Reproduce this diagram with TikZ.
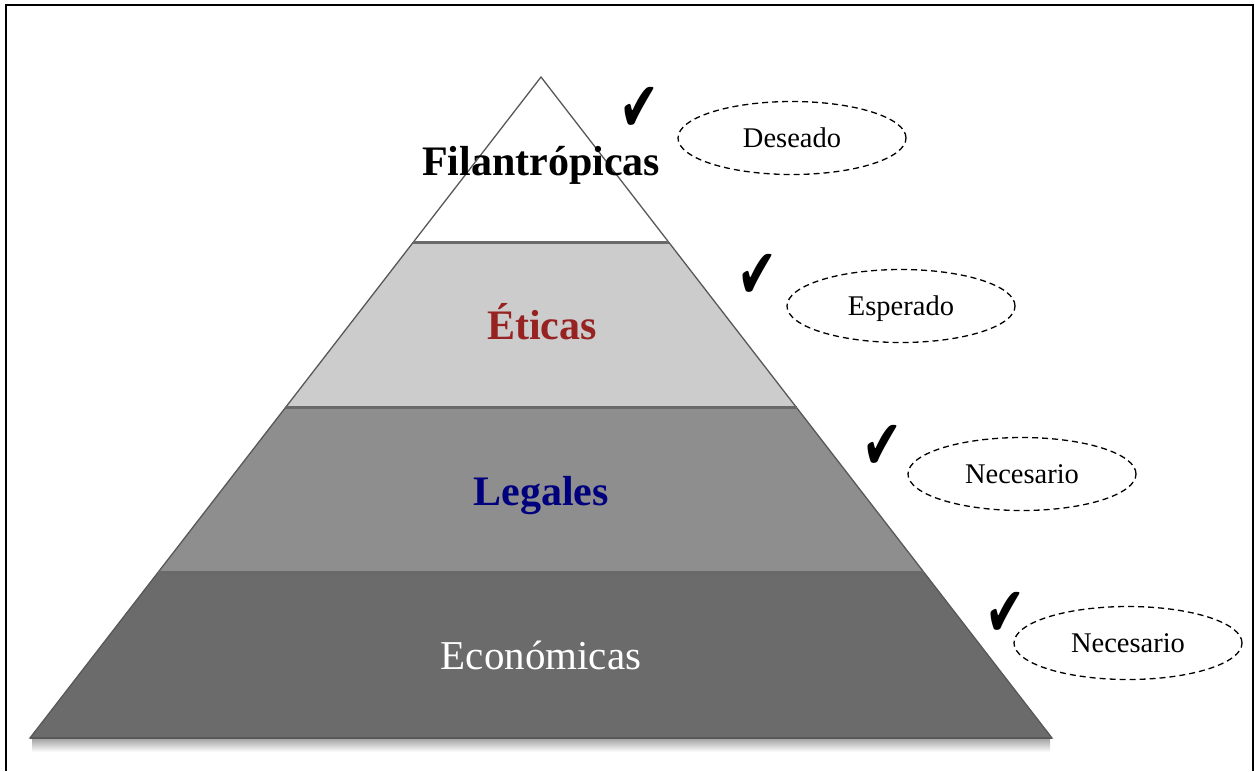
\documentclass[tikz,border=0pt]{standalone}
\usepackage{graphicx}
\usepackage{fontspec}
\setmainfont{Liberation Serif}
\newfontfamily\symfont{DejaVu Sans}
\usetikzlibrary{shapes.geometric,calc}
\definecolor{lay2}{HTML}{CCCCCC}
\definecolor{lay3}{HTML}{8E8E8E}
\definecolor{lay4}{HTML}{6B6B6B}
\definecolor{edgegray}{HTML}{585858}
\definecolor{etired}{HTML}{962222}
\definecolor{legblue}{HTML}{00007F}
\newcommand{\chk}{\scalebox{0.85}[1.25]{✔}}
\tikzset{
  layerline/.style={draw=edgegray, line width=1.3pt},
  sepline/.style={draw=edgegray!90, line width=2.6pt},
  biglabel/.style={font=\fontsize{42}{42}\selectfont\bfseries, anchor=base, inner sep=0pt},
  baselabel/.style={font=\fontsize{41}{41}\selectfont, anchor=base, inner sep=0pt, text=white},
  oval/.style={ellipse, draw=black, dashed, dash pattern=on 6pt off 4pt, line width=1.3pt,
     minimum width=228pt, minimum height=73pt, inner sep=0pt,
     font=\fontsize{28.5}{28.5}\selectfont, text height=19pt, text depth=0pt},
  checkmark/.style={font=\symfont\fontsize{56}{56}\selectfont, inner sep=0pt},
}
\begin{document}
\begin{tikzpicture}[x=1pt, y=-1pt]
\useasboundingbox (0,0) rectangle (1255,771);
% frame
\draw[line width=2pt] (6,771) -- (6,5) -- (1253,5) -- (1253,771);
% pyramid geometry
\coordinate (A) at (541,77);
\coordinate (BL) at (30,738);
\coordinate (BR) at (1052,738);
\coordinate (L1) at ($(A)!0.25!(BL)$);
\coordinate (R1) at ($(A)!0.25!(BR)$);
\coordinate (L2) at ($(A)!0.5!(BL)$);
\coordinate (R2) at ($(A)!0.5!(BR)$);
\coordinate (L3) at ($(A)!0.75!(BL)$);
\coordinate (R3) at ($(A)!0.75!(BR)$);
% base shadow
\shade[top color=black!35, bottom color=white] (32,739) rectangle (1050,752);
% layers
\fill[white] (A) -- (L1) -- (R1) -- cycle;
\fill[lay2] (L1) -- (R1) -- (R2) -- (L2) -- cycle;
\fill[lay3] (L2) -- (R2) -- (R3) -- (L3) -- cycle;
\fill[lay4] (L3) -- (R3) -- (BR) -- (BL) -- cycle;
\draw[layerline, line join=miter] (A) -- (BL) -- (BR) -- cycle;
\draw[sepline] (L1) -- (R1);
\draw[sepline] (L2) -- (R2);
\draw[sepline] (L3) -- (R3);
\draw[edgegray, line width=2.4pt] (BL) -- (BR);
% labels
\node[biglabel, text=black] (fil) at (541,175) {Filantrópicas};
\node[biglabel, text=etired] (eti) at (542,339) {Éticas};
\node[biglabel, text=legblue] (leg) at (541,505) {Legales};
\node[baselabel] (eco) at (541,669) {Económicas};
% ovals
\node[oval] (o1) at (792,138) {Deseado};
\node[oval] (o2) at (901,306) {Esperado};
\node[oval] (o3) at (1022,474) {Necesario};
\node[oval] (o4) at (1128,643) {Necesario};
% checks
\node[checkmark] (c1) at (639,109) {\chk};
\node[checkmark] (c2) at (757,276) {\chk};
\node[checkmark] (c3) at (882,447) {\chk};
\node[checkmark] (c4) at (1005,614) {\chk};
\end{tikzpicture}
\end{document}
